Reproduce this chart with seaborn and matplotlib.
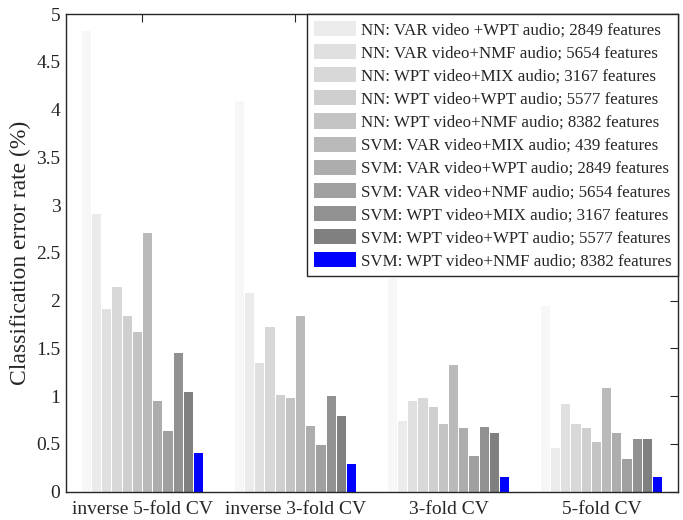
import numpy as np
import pandas as pd
import matplotlib
matplotlib.use("Agg")
import matplotlib.pyplot as plt
from matplotlib.ticker import FormatStrFormatter
import seaborn as sns

# Cross-validation schemes (x-axis groups)
schemes = ["inverse 5-fold CV", "inverse 3-fold CV", "3-fold CV", "5-fold CV"]

# Classifier / feature-set configurations (hue levels)
configs = [
    "NN: VAR video+MIX audio; 439 features",
    "NN: VAR video +WPT audio; 2849 features",
    "NN: VAR video+NMF audio; 5654 features",
    "NN: WPT video+MIX audio; 3167 features",
    "NN: WPT video+WPT audio; 5577 features",
    "NN: WPT video+NMF audio; 8382 features",
    "SVM: VAR video+MIX audio; 439 features",
    "SVM: VAR video+WPT audio; 2849 features",
    "SVM: VAR video+NMF audio; 5654 features",
    "SVM: WPT video+MIX audio; 3167 features",
    "SVM: WPT video+WPT audio; 5577 features",
    "SVM: WPT video+NMF audio; 8382 features",
]

# Classification error rate (%) per scheme, one list per configuration
err_nn_var_mix = [4.82, 4.09, 2.24, 1.94]
err_nn_var_wpt = [2.91, 2.08, 0.74, 0.46]
err_nn_var_nmf = [1.91, 1.35, 0.95, 0.92]
err_nn_wpt_mix = [2.14, 1.72, 0.98, 0.71]
err_nn_wpt_wpt = [1.84, 1.01, 0.89, 0.66]
err_nn_wpt_nmf = [1.67, 0.98, 0.71, 0.52]
err_svm_var_mix = [2.71, 1.84, 1.32, 1.08]
err_svm_var_wpt = [0.95, 0.69, 0.66, 0.61]
err_svm_var_nmf = [0.63, 0.49, 0.37, 0.34]
err_svm_wpt_mix = [1.45, 1.00, 0.68, 0.55]
err_svm_wpt_wpt = [1.04, 0.79, 0.61, 0.55]
err_svm_wpt_nmf = [0.40, 0.29, 0.15, 0.15]

series = [err_nn_var_mix, err_nn_var_wpt, err_nn_var_nmf, err_nn_wpt_mix,
          err_nn_wpt_wpt, err_nn_wpt_nmf, err_svm_var_mix, err_svm_var_wpt,
          err_svm_var_nmf, err_svm_wpt_mix, err_svm_wpt_wpt, err_svm_wpt_nmf]

colors = ["#f7f7f7", "#ebebeb", "#e0e0e0", "#d8d8d8", "#cfcfcf", "#c4c4c4",
          "#bababa", "#adadad", "#a0a0a0", "#919191", "#808080", "#0000ff"]

df = pd.DataFrame(
    [(s, c, v) for c, vals in zip(configs, series) for s, v in zip(schemes, vals)],
    columns=["scheme", "config", "error"],
)

sns.set_theme(style="white")
plt.rcParams["font.family"] = ["Liberation Serif", "DejaVu Serif"]
plt.rcParams["axes.edgecolor"] = "#262626"

fig = plt.figure(figsize=(6.83, 5.2), dpi=100)
ax = fig.add_axes([0.0966, 0.0548, 0.8961, 0.9182])

sns.barplot(data=df, x="scheme", y="error", hue="config", order=schemes,
            hue_order=configs, palette=colors, width=0.8, gap=0.1,
            saturation=1, linewidth=0, errorbar=None, ax=ax)

ax.set_xlim(-0.5, 3.5)
ax.set_ylim(0, 5)
ax.set_yticks(np.arange(0, 5.01, 0.5))
ax.yaxis.set_major_formatter(FormatStrFormatter("%g"))
ax.set_xlabel("")
ax.set_ylabel("Classification error rate (%)", fontsize=17, labelpad=4)
ax.tick_params(axis="both", direction="in", top=True, right=True,
               length=6, width=0.8, color="#262626", labelsize=14,
               labelcolor="#262626", pad=4)
ax.tick_params(axis="x", labelsize=14, pad=7)
for sp in ax.spines.values():
    sp.set_visible(True)
    sp.set_linewidth(1.0)
    sp.set_color("#262626")

handles, labels = ax.get_legend_handles_labels()
ax.legend(handles[1:], labels[1:], loc="upper right", bbox_to_anchor=(1.0, 1.0),
          borderaxespad=0, fontsize=12.2, frameon=True, fancybox=False,
          edgecolor="#262626", framealpha=1, handlelength=2.5, handleheight=1.0,
          labelspacing=0.34, handletextpad=0.25, borderpad=0.4)
ax.get_legend().get_frame().set_linewidth(1.0)

fig.savefig("out.png", dpi=100)
